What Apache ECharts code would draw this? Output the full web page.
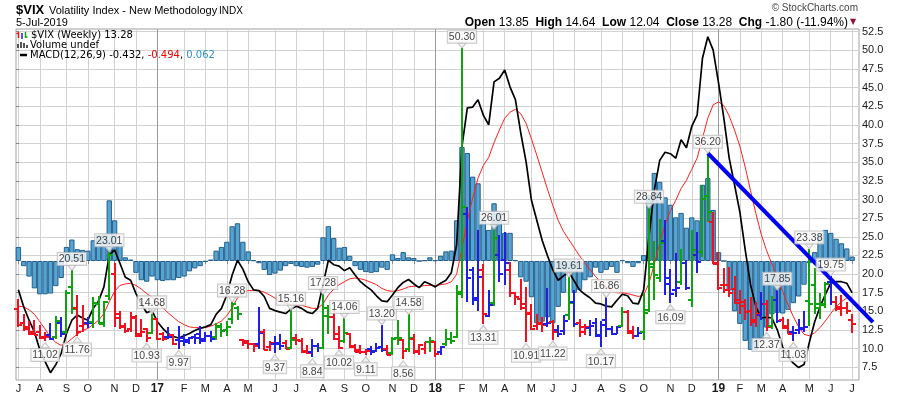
<!DOCTYPE html>
<html><head><meta charset="utf-8">
<script src="https://cdn.jsdelivr.net/npm/echarts@6/dist/echarts.min.js"></script>
<style>html,body{margin:0;padding:0;background:#fff}#c{width:900px;height:396px}</style>
</head><body><div id="c"></div>
<script>
// ---------- DATA ----------
const firstWeek = [2016, 6, 4];          // Monday of first weekly bar (UTC y, m0, d)
const weekCount = 157;
const weeks = [];
for (let i = 0; i < weekCount; i++) {
  weeks.push(new Date(Date.UTC(firstWeek[0], firstWeek[1], firstWeek[2] + 7 * i)).toISOString().slice(0, 10));
}
const open = [
15.3,13.5,12.9,12.3,12.2,11.6,11.8,11.6,13.5,12.2,
18.3,15.5,13.0,13.5,13.6,16.0,13.5,17.0,20.0,14.6,
13.0,12.6,14.2,12.0,12.6,12.1,14.0,11.9,11.6,11.8,
11.2,11.4,11.2,11.6,12.0,11.3,11.7,11.6,13.0,12.5,
14.0,15.4,11.1,11.0,10.6,10.6,12.2,10.2,10.6,10.6,
10.8,10.1,11.4,11.0,9.7,9.6,10.4,10.1,14.4,14.3,
12.0,11.0,11.9,10.4,9.8,9.6,9.9,9.7,10.2,10.0,
9.4,11.4,11.2,9.9,11.3,9.7,9.9,10.9,10.9,9.6,
10.6,11.3,11.6,17.6,28.0,20.6,16.8,20.5,14.4,16.1,
22.6,21.9,20.5,17.4,16.7,16.0,14.6,13.1,13.3,13.3,
13.6,12.5,12.4,14.5,16.3,13.4,12.9,12.8,13.4,11.8,
13.9,12.6,12.0,13.0,14.9,12.4,11.7,12.2,15.2,21.0,
19.5,24.5,18.7,17.9,19.0,21.5,16.5,22.6,22.9,30.5,
27.0,21.5,18.5,18.6,18.0,16.5,16.2,15.0,13.8,14.5,
16.0,13.0,16.5,13.9,13.1,12.3,12.5,12.7,16.4,18.5,
15.4,16.0,18.9,16.2,15.6,15.5,13.85];
const high = [
16.6,14.6,13.7,13.9,13.2,12.2,13.5,14.4,14.3,17.9,
20.51,17.2,15.9,14.3,16.9,17.0,16.4,23.01,21.5,15.0,
13.4,14.9,14.5,14.0,12.8,14.68,14.1,12.3,12.9,12.0,
13.1,11.9,11.6,12.0,13.0,12.2,12.4,13.5,13.4,13.7,
16.28,15.7,11.3,11.1,10.8,15.59,12.7,11.0,11.7,12.0,
11.1,15.16,12.0,11.4,10.5,11.3,10.8,17.28,15.9,15.2,
13.0,14.06,12.1,10.6,10.5,10.0,10.3,10.7,13.20,10.5,
11.5,13.8,11.3,14.58,11.9,10.6,10.9,11.5,11.0,10.4,
12.6,12.2,18.5,50.30,29.0,21.0,25.9,21.4,17.8,26.01,
25.3,25.7,21.6,17.6,19.4,18.3,16.0,14.6,14.2,18.1,
13.8,13.2,14.5,19.61,17.8,14.0,13.3,13.9,14.1,13.7,
16.86,13.0,13.1,15.6,15.2,13.1,12.9,17.4,28.84,24.5,
27.45,27.3,20.7,22.8,23.4,21.9,25.94,25.6,31.9,36.20,
28.3,23.0,20.8,21.0,19.8,17.8,16.7,16.9,16.3,17.6,
16.5,17.0,17.85,14.2,14.0,13.0,14.0,15.0,23.38,20.8,
17.5,18.9,19.75,17.0,17.2,16.3,14.64];
const low = [
12.9,12.4,11.8,11.8,11.3,11.02,11.2,11.3,11.6,11.9,
14.6,11.76,12.2,12.8,12.8,13.3,12.9,16.5,12.9,12.7,
12.1,12.3,11.6,11.6,10.93,11.9,11.2,11.0,11.3,10.5,
9.97,10.4,10.6,10.6,10.6,10.9,10.9,11.1,11.5,11.7,
13.3,13.9,10.4,9.9,9.6,10.0,9.8,9.7,9.37,9.8,
9.9,9.9,10.5,9.4,9.3,8.84,9.6,10.0,11.9,11.1,
10.02,10.8,10.1,9.5,9.3,9.11,9.2,9.6,9.6,9.1,
9.1,10.5,8.56,9.6,9.3,9.2,9.3,9.6,8.9,9.2,
10.3,10.6,11.4,16.8,16.3,15.9,15.1,13.31,14.3,15.7,
19.0,18.5,16.9,15.8,15.15,10.91,12.5,12.5,12.2,12.9,
11.22,11.5,11.8,13.8,12.9,11.6,11.8,11.7,11.6,10.17,
11.5,11.8,11.9,12.9,12.0,11.3,11.6,11.2,14.9,16.5,
18.9,17.2,16.09,16.9,18.5,17.8,15.6,20.1,22.3,27.0,
21.3,17.8,17.4,16.9,16.0,14.7,13.8,13.1,12.9,13.9,
12.37,12.6,13.4,12.6,11.9,11.03,11.9,12.3,13.0,14.7,
14.0,15.4,15.9,15.0,14.4,14.7,12.04];
const close = [
13.20,12.67,12.02,11.87,11.39,11.55,11.34,13.65,11.98,17.50,
15.37,12.29,13.29,13.48,16.12,13.34,16.19,22.51,14.17,12.85,
12.34,14.07,11.75,12.20,11.44,14.04,11.32,11.23,11.54,10.58,
10.97,10.85,11.49,11.47,10.96,11.66,11.28,12.96,12.37,12.87,
15.96,14.63,10.82,10.57,10.40,12.04,9.81,10.82,10.70,10.38,
10.02,11.18,11.19,9.51,9.36,10.29,10.03,15.51,14.26,11.28,
10.13,12.12,10.17,9.59,9.51,9.65,9.61,10.15,9.80,9.14,
11.29,11.43,9.67,11.43,9.58,10.49,10.88,11.04,9.22,10.16,
11.27,11.08,17.31,29.06,19.46,16.49,19.59,14.64,15.80,24.87,
19.97,21.49,17.41,16.88,15.41,14.77,12.65,13.42,13.22,13.46,
12.18,11.98,13.77,16.09,13.37,12.18,12.86,13.03,11.64,13.16,
12.64,11.99,12.86,14.88,12.07,11.68,12.12,14.82,21.31,19.89,
24.16,19.51,17.36,18.14,21.52,18.07,23.23,21.63,30.11,28.34,
21.38,18.19,17.80,17.42,16.14,15.72,14.91,13.51,14.63,16.05,
12.88,16.48,13.71,12.82,12.01,12.09,12.73,12.87,16.04,15.96,
15.85,18.71,16.30,15.28,15.40,15.08,13.28];
// bar colour state: g = green, r = red, b = blue
const impulse = ("rrrrrrbgbg" + "grrbggggrr" + "rrrrrgrrbr" + "bbbbbbbggg" + "ggrrrbrrbb" +
  "rgrrrbbggr" + "rgrrrrbbbr" + "ggrgrrrgrb" + "ggggbbbrbg" + "bbrrrrrrrb" +
  "rbbgbrrbbb" + "bbbgrrbggg" + "gbbbgbgbgg" + "rrrrrrrrrb" + "rgbrrbbbgg" + "ggbrrrr").split("");
const macdLine = [
-0.39,-0.62,-0.80,-0.96,-1.20,-1.36,-1.51,-1.40,-1.25,-0.98,
-0.80,-0.73,-0.77,-0.80,-0.64,-0.54,-0.35,0.08,0.15,-0.03,
-0.22,-0.26,-0.44,-0.58,-0.70,-0.67,-0.82,-0.91,-0.98,-1.02,
-1.04,-1.01,-0.98,-0.94,-0.91,-0.89,-0.86,-0.72,-0.64,-0.46,
-0.19,0.01,-0.11,-0.28,-0.39,-0.40,-0.48,-0.64,-0.67,-0.69,
-0.71,-0.65,-0.61,-0.64,-0.69,-0.71,-0.64,-0.32,0.01,-0.05,
-0.07,-0.13,-0.09,-0.19,-0.28,-0.34,-0.39,-0.47,-0.54,-0.55,
-0.46,-0.36,-0.29,-0.25,-0.31,-0.36,-0.28,-0.31,-0.35,-0.30,
-0.26,-0.16,0.22,1.55,2.07,2.08,2.18,1.97,1.84,2.42,
2.47,2.58,2.35,2.18,1.73,1.34,0.82,0.55,0.28,0.07,
-0.12,-0.26,-0.20,-0.15,-0.27,-0.39,-0.45,-0.50,-0.57,-0.58,
-0.61,-0.62,-0.53,-0.45,-0.47,-0.57,-0.58,-0.39,0.34,0.96,
1.36,1.47,1.45,1.39,1.64,1.53,1.82,1.97,2.74,3.03,
2.85,2.41,1.93,1.39,1.03,0.66,0.15,-0.32,-0.62,-0.77,
-0.76,-0.77,-0.93,-1.16,-1.30,-1.38,-1.44,-1.40,-1.10,-0.82,
-0.62,-0.45,-0.30,-0.28,-0.28,-0.30,-0.43];
const macdSignal = [
-0.61,-0.62,-0.66,-0.72,-0.82,-0.92,-1.03,-1.10,-1.14,-1.11,
-1.05,-0.99,-0.94,-0.91,-0.86,-0.80,-0.71,-0.55,-0.41,-0.33,
-0.31,-0.30,-0.33,-0.38,-0.44,-0.49,-0.56,-0.63,-0.70,-0.76,
-0.82,-0.86,-0.89,-0.90,-0.90,-0.90,-0.88,-0.85,-0.81,-0.74,
-0.63,-0.50,-0.42,-0.40,-0.40,-0.40,-0.42,-0.46,-0.50,-0.54,
-0.57,-0.59,-0.59,-0.60,-0.62,-0.64,-0.64,-0.58,-0.46,-0.38,
-0.32,-0.28,-0.24,-0.23,-0.24,-0.26,-0.29,-0.32,-0.37,-0.40,
-0.41,-0.40,-0.38,-0.35,-0.34,-0.35,-0.33,-0.33,-0.33,-0.32,
-0.31,-0.28,-0.18,0.17,0.54,0.85,1.12,1.29,1.40,1.60,
1.77,1.93,2.01,2.05,1.99,1.86,1.65,1.43,1.20,0.97,
0.75,0.55,0.40,0.29,0.18,0.07,-0.03,-0.12,-0.21,-0.29,
-0.35,-0.40,-0.43,-0.43,-0.44,-0.46,-0.48,-0.46,-0.30,-0.04,
0.24,0.49,0.68,0.82,0.98,1.09,1.24,1.39,1.66,1.93,
2.11,2.15,2.10,1.96,1.77,1.55,1.27,0.95,0.64,0.36,
0.14,-0.04,-0.22,-0.41,-0.59,-0.75,-0.89,-0.99,-1.01,-0.97,
-0.90,-0.81,-0.71,-0.62,-0.55,-0.50,-0.49];
const macdHist = [
0.19,-0.07,-0.21,-0.37,-0.45,-0.45,-0.44,-0.34,-0.23,0.19,
0.29,0.16,0.15,0.14,0.28,0.35,0.36,0.82,0.55,0.24,
0.05,0.02,-0.16,-0.26,-0.28,-0.21,-0.26,-0.27,-0.26,-0.26,
-0.23,-0.21,-0.14,-0.10,-0.07,-0.01,0.02,0.14,0.19,0.26,
0.47,0.51,0.26,0.13,0.01,-0.03,-0.12,-0.19,-0.17,-0.13,
-0.07,-0.04,-0.07,-0.08,-0.09,-0.08,-0.05,0.32,0.47,0.31,
0.18,0.19,0.07,-0.07,-0.12,-0.15,-0.16,-0.15,-0.09,-0.12,
0.09,0.04,0.12,0.05,0.04,0.00,0.01,0.05,0.01,0.07,
0.13,0.14,0.55,1.54,1.46,1.14,1.05,0.55,0.42,0.78,
0.65,0.38,0.38,0.01,-0.22,-0.28,-0.49,-0.84,-0.82,-0.76,
-0.84,-0.62,-0.43,-0.16,-0.43,-0.39,-0.26,-0.22,-0.09,-0.16,
-0.12,-0.08,-0.16,0.01,-0.03,-0.08,-0.03,0.08,0.89,1.19,
1.07,0.86,0.76,0.59,0.65,0.45,0.59,0.55,1.03,1.12,
0.69,0.12,0.00,-0.40,-0.68,-0.85,-1.08,-1.20,-1.20,-1.05,
-0.90,-0.72,-0.70,-0.71,-0.66,-0.57,-0.48,-0.32,-0.03,0.12,
0.36,0.42,0.38,0.30,0.24,0.17,0.06];
// annotated swing highs / lows: [week index, value]
const highNotes = [[10,20.51],[17,23.01],[25,14.68],[40,16.28],[51,15.16],[57,17.28],[61,14.06],[68,13.20],[73,14.58],
  [83,50.30],[89,26.01],[103,19.61],[110,16.86],[118,28.84],[129,36.20],[142,17.85],[148,23.38],[152,19.75]];
const lowNotes = [[5,11.02],[11,11.76],[24,10.93],[30,9.97],[48,9.37],[55,8.84],[60,10.02],[65,9.11],[72,8.56],
  [87,13.31],[95,10.91],[100,11.22],[109,10.17],[122,16.09],[140,12.37],[145,11.03]];
// trend line endpoints: [week index, price]
const trendFrom = [129, 36.20];
const trendTo = [159.9, 13.57];
const priceTicks = {min: 7.5, max: 52.5, step: 2.5};
const monthLetters = "JFMAMJJASOND";

// ---------- CHART ----------
const FONT = "'Liberation Sans', Arial, sans-serif";
const LEG = "'DejaVu Sans', Verdana, sans-serif";
const barColors = {g: '#0fa30f', r: '#f01020', b: '#1f1fe8'};
const isMonthStart = weeks.map((w, i) => i === 0 || w.slice(5, 7) !== weeks[i - 1].slice(5, 7));
const monthInterval = (idx) => isMonthStart[idx];
const gridLineColors = ['#d2d2d2','#d2d2d2','#d2d2d2','#d2d2d2','#d2d2d2','#d2d2d2','#9a9a9a','#d2d2d2','#d2d2d2','#d2d2d2','#d2d2d2','#d2d2d2'];

const PLOT_LEFT = 18.4, PLOT_RIGHT = 47.9, CHART_W = 900;
const STEP = (CHART_W - PLOT_LEFT - PLOT_RIGHT) / (weekCount - 1);
const trendAxisMax = (CHART_W - PLOT_LEFT) / STEP;   // wide hidden axis so the trend line can run past the last bar

const MACD_ZERO_PX = 232, MACD_PX_PER_UNIT = 74, MACD_H = 351;
const macdMax = MACD_ZERO_PX / MACD_PX_PER_UNIT;
const macdMin = -(MACD_H - MACD_ZERO_PX) / MACD_PX_PER_UNIT;

const ohlcRows = weeks.map((w, i) => [i, open[i], high[i], low[i], close[i]]);

const noteLabel = {
  show: true, formatter: p => p.value[1].toFixed(2), backgroundColor: '#fbfbfb',
  borderColor: '#bcbcbc', borderWidth: 1, padding: [1, 1, 0, 1], color: '#111',
  fontSize: 10.5, fontFamily: FONT, lineHeight: 11
};

const chart = echarts.init(document.getElementById('c'), null, {renderer: 'canvas'});
chart.setOption({
  animation: false,
  grid: [
    {left: 16, right: 41, top: 29, bottom: 16, show: true, borderColor: '#a0a0a0', borderWidth: 1, backgroundColor: 'rgba(0,0,0,0)', outerBoundsMode: 'none'},
    {left: 16, right: 41, top: 31.7, bottom: 28.7, outerBoundsMode: 'none'},
    {left: PLOT_LEFT, right: PLOT_RIGHT, top: 31.7, bottom: 28.7, outerBoundsMode: 'none'},
    {left: PLOT_LEFT, right: PLOT_RIGHT, top: 29, bottom: 16, outerBoundsMode: 'none'},
    {left: PLOT_LEFT, right: 0, top: 31.7, bottom: 28.7, outerBoundsMode: 'none'}
  ],
  xAxis: [
    {gridIndex: 0, type: 'value', show: false},
    {gridIndex: 1, type: 'value', show: false},
    {gridIndex: 2, type: 'category', data: weeks, boundaryGap: false, show: false},
    {gridIndex: 3, type: 'category', data: weeks, boundaryGap: false,
      axisLine: {show: false},
      axisTick: {show: true, interval: monthInterval, length: 3, lineStyle: {color: '#8a8a8a'}},
      axisLabel: {interval: monthInterval, margin: 3, fontSize: 11, color: '#1a1a1a', fontFamily: FONT,
        formatter: (v) => { const m = +v.slice(5, 7) - 1; return m === 0 ? '{y|' + v.slice(2, 4) + '}' : monthLetters[m]; },
        rich: {y: {fontWeight: 'bold', fontSize: 12, color: '#1a1a1a', fontFamily: FONT}}},
      splitLine: {show: true, interval: monthInterval, lineStyle: {color: gridLineColors, width: 1}}},
    {gridIndex: 4, type: 'value', min: 0, max: trendAxisMax, show: false}
  ],
  yAxis: [
    {gridIndex: 0, type: 'value', show: false},
    {gridIndex: 1, type: 'value', min: priceTicks.min, max: priceTicks.max, interval: priceTicks.step, position: 'right',
      axisLine: {show: false},
      axisTick: {show: true, length: 3, lineStyle: {color: '#8a8a8a'}},
      axisLabel: {margin: 3, fontSize: 11, color: '#1a1a1a', fontFamily: FONT, formatter: v => v.toFixed(1)},
      splitLine: {show: true, lineStyle: {color: '#d2d2d2'}}},
    {gridIndex: 2, type: 'value', min: priceTicks.min, max: priceTicks.max, show: false},
    {gridIndex: 3, type: 'value', min: macdMin, max: macdMax, show: false},
    {gridIndex: 4, type: 'value', min: priceTicks.min, max: priceTicks.max, show: false}
  ],
  series: [
    {type: 'bar', name: 'hist', xAxisIndex: 3, yAxisIndex: 3, data: macdHist, barWidth: 5.34, z: 1,
      itemStyle: {color: '#57a3d2', borderColor: '#23608c', borderWidth: 1}, silent: true},
    {type: 'line', name: 'signal', xAxisIndex: 3, yAxisIndex: 3, data: macdSignal, symbol: 'none', z: 2,
      lineStyle: {color: '#ff1f1f', width: 1}, silent: true},
    {type: 'line', name: 'macd', xAxisIndex: 3, yAxisIndex: 3, data: macdLine, symbol: 'none', z: 3,
      lineStyle: {color: '#000', width: 1.7}, silent: true},
    {type: 'custom', name: 'ohlc', xAxisIndex: 2, yAxisIndex: 2, data: ohlcRows, z: 4, clip: false,
      encode: {x: 0, y: [1, 2, 3, 4]},
      renderItem: function (params, api) {
        const i = api.value(0);
        const ph = api.coord([i, api.value(2)]), pl = api.coord([i, api.value(3)]);
        const po = api.coord([i, api.value(1)]), pc = api.coord([i, api.value(4)]);
        const x = Math.round(ph[0]);
        const st = {stroke: barColors[impulse[params.dataIndex]], lineWidth: 2};
        const yo = Math.round(po[1]), yc = Math.round(pc[1]);
        return {type: 'group', children: [
          {type: 'line', shape: {x1: x, y1: Math.round(ph[1]), x2: x, y2: Math.round(pl[1])}, style: st},
          {type: 'line', shape: {x1: x - 4, y1: yo, x2: x, y2: yo}, style: st},
          {type: 'line', shape: {x1: x, y1: yc, x2: x + 4, y2: yc}, style: st}
        ]};
      }},
    {type: 'line', name: 'trend', xAxisIndex: 4, yAxisIndex: 4, data: [trendFrom, trendTo], symbol: 'none', clip: false, z: 5,
      lineStyle: {color: '#0000f5', width: 4}, silent: true},
    {type: 'scatter', name: 'highs', xAxisIndex: 2, yAxisIndex: 2, data: highNotes, z: 8, clip: false,
      symbol: 'triangle', symbolSize: [8, 5], symbolRotate: 180, symbolOffset: [0, -2.5],
      itemStyle: {color: '#f4f4f4', borderColor: '#b8b8b8', borderWidth: 1},
      label: Object.assign({position: 'top', distance: 0}, noteLabel)},
    {type: 'scatter', name: 'lows', xAxisIndex: 2, yAxisIndex: 2, data: lowNotes, z: 8, clip: false,
      symbol: 'triangle', symbolSize: [8, 5], symbolOffset: [0, 4],
      itemStyle: {color: '#f4f4f4', borderColor: '#b8b8b8', borderWidth: 1},
      label: Object.assign({position: 'bottom', distance: 1}, noteLabel)}
  ],
  graphic: [
    {type: 'text', x: 16, y: 10, z: 100, style: {text: '$VIX', font: 'bold 13px ' + FONT, fill: '#000', verticalAlign: 'middle'}},
    {type: 'text', x: 49, y: 10.5, z: 100, style: {text: 'Volatility Index - New Methodology', font: '11px ' + FONT, fill: '#000', verticalAlign: 'middle'}},
    {type: 'text', x: 219, y: 11, z: 100, style: {text: 'INDX', font: '10px ' + FONT, fill: '#000', verticalAlign: 'middle'}},
    {type: 'text', x: 16, y: 23, z: 100, style: {text: '5-Jul-2019', font: '11px ' + FONT, fill: '#000', verticalAlign: 'middle'}},
    {type: 'text', x: 858, y: 8.5, z: 100, style: {text: '\u00A9 StockCharts.com', font: '10px ' + FONT, fill: '#444', align: 'right', verticalAlign: 'middle'}},
    {type: 'text', x: 848, y: 22.5, z: 100, style: {
      text: '{b|Open} 13.85  {b|High} 14.64  {b|Low} 12.04  {b|Close} 13.28  {b|Chg} -1.80 (-11.94%)',
      font: '12px ' + FONT, fill: '#000', align: 'right', verticalAlign: 'middle',
      rich: {b: {font: 'bold 12px ' + FONT, fill: '#000'}}}},
    {type: 'text', x: 850, y: 22, z: 100, style: {text: '\u25BC', font: '8px ' + LEG, fill: '#8c1434', verticalAlign: 'middle'}},
    // legend icons
    {type: 'line', z: 100, shape: {x1: 18.5, y1: 32, x2: 18.5, y2: 38}, style: {stroke: '#f01020', lineWidth: 1.5}},
    {type: 'line', z: 100, shape: {x1: 16.5, y1: 33.5, x2: 18.5, y2: 33.5}, style: {stroke: '#f01020', lineWidth: 1.5}},
    {type: 'line', z: 100, shape: {x1: 22, y1: 33, x2: 22, y2: 39}, style: {stroke: '#1f1fe8', lineWidth: 1.5}},
    {type: 'line', z: 100, shape: {x1: 25.5, y1: 32, x2: 25.5, y2: 38}, style: {stroke: '#0fa30f', lineWidth: 1.5}},
    {type: 'line', z: 100, shape: {x1: 25.5, y1: 37, x2: 27.5, y2: 37}, style: {stroke: '#0fa30f', lineWidth: 1.5}},
    {type: 'rect', z: 100, shape: {x: 17, y: 44, width: 2, height: 4}, style: {fill: '#555'}},
    {type: 'rect', z: 100, shape: {x: 20, y: 42, width: 2, height: 6}, style: {fill: '#555'}},
    {type: 'rect', z: 100, shape: {x: 23, y: 43, width: 2, height: 5}, style: {fill: '#555'}},
    {type: 'rect', z: 100, shape: {x: 26, y: 45, width: 2, height: 3}, style: {fill: '#555'}},
    {type: 'line', z: 100, shape: {x1: 20, y1: 55, x2: 27, y2: 55}, style: {stroke: '#000', lineWidth: 2.5}},
    {type: 'text', x: 31, y: 35.5, z: 100, style: {text: '$VIX (Weekly) 13.28', font: '10px ' + LEG, fill: '#000', verticalAlign: 'middle'}},
    {type: 'text', x: 30, y: 45.5, z: 100, style: {text: 'Volume undef', font: '10px ' + LEG, fill: '#000', verticalAlign: 'middle'}},
    {type: 'text', x: 30, y: 55.5, z: 100, style: {
      text: '{k|MACD(12,26,9) -0.432, }{r|-0.494}{k|, }{c|0.062}', font: '10px ' + LEG, verticalAlign: 'middle',
      rich: {k: {font: '10px ' + LEG, fill: '#000'}, r: {font: '10px ' + LEG, fill: '#ee0000'}, c: {font: '10px ' + LEG, fill: '#2b93d1'}}}}
  ]
});
</script></body></html>
